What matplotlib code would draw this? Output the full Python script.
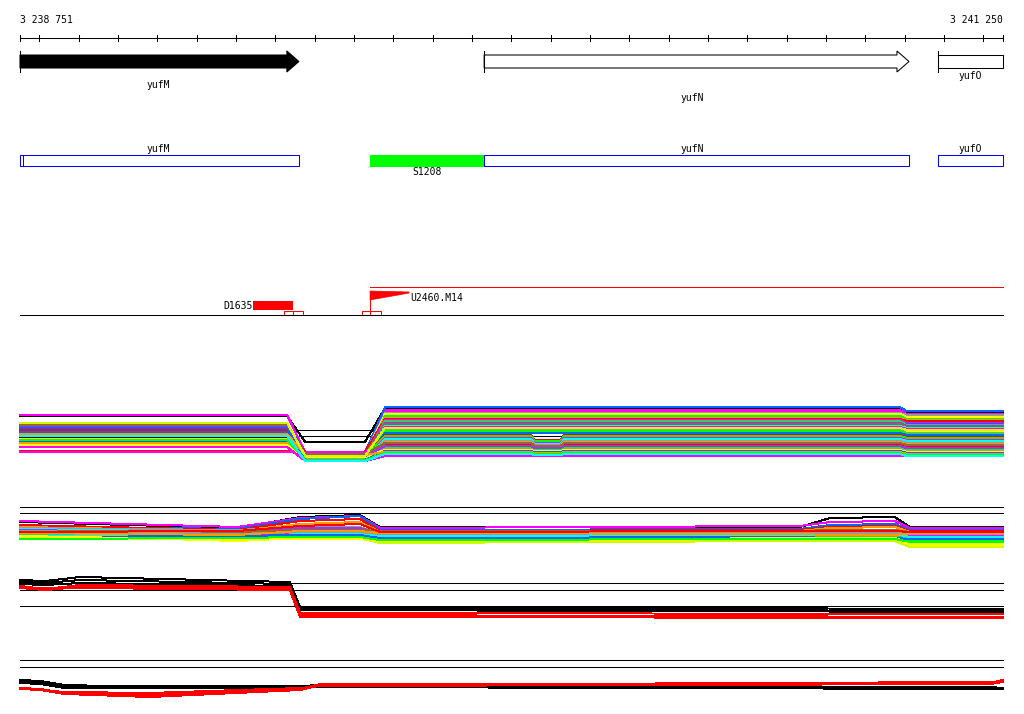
import numpy as np
import matplotlib
matplotlib.use('Agg')
import matplotlib.pyplot as plt
from matplotlib.patches import Polygon, Rectangle

plt.rcParams['font.family'] = 'DejaVu Sans Mono'
plt.rcParams['font.size'] = 7

# region shown (bp)
start, end = 3238751, 3241250
bp_px = (end - start) / 983.0
ticks = list(range(3238800, 3241201, 100))

# genes: name, from, to, kind
genes = [('yufM', 3238751, 3239460, 'filled'),
         ('yufN', 3239931, 3241011, 'open'),
         ('yufO', 3241085, 3241250, 'box')]
gene_label_x = [3239102, 3240460, 3241167]
gene_label_y = [85, 98, 76]

# second track boxes
boxes = [('yufM', 3238751, 3239460), ('yufN', 3239931, 3241011), ('yufO', 3241085, 3241250)]
promoter = ('S1208', 3239641, 3239931)

# third track
d_name, d_from, d_to = 'D1635', 3239343, 3239445
d_boxes = [(3239422, 3239445), (3239445, 3239470)]
u_name, u_pos, u_flag_end = 'U2460.M14', 3239641, 3239740
u_boxes = [(3239620, 3239641), (3239641, 3239669)]

palette = {'k': '#000000', 'm': '#ff00ff', 'b': '#0066ff', 'r': '#ff0000', 'o': '#ff9900',
           'y': '#ffff00', 'l': '#00ff00', 'c': '#00ffff', 'g': '#999999', 'p': '#9933ff',
           'n': '#996633', 'e': '#33cc66', 'w': '#ccff00'}

# track 4 bundle: left, dip, right, mid-right, far-right levels
x4 = [3238751, 3239430, 3239476, 3239628, 3239679, 3240050, 3240060, 3240125, 3240135,
      3240988, 3241005, 3241250]
t4_colors = list('kmbmgcylormbepncmyglbrlmcgokrmlgypbomlcnw')
t4_levels = [
    (416, 442, 408, 408, 412), (415, 452, 410, 410, 414), (425, 453, 407, 407, 411), (424, 455, 412, 412, 416),
    (426, 454, 413, 413, 415), (427, 456, 415, 415, 418), (428, 455, 414, 414, 417), (429, 457, 416, 416, 419),
    (431, 458, 418, 418, 420), (430, 452, 419, 419, 421), (433, 456, 420, 420, 423), (432, 457, 422, 422, 424),
    (434, 458, 421, 421, 425), (435, 456, 423, 423, 426), (436, 455, 424, 424, 427), (437, 459, 426, 426, 428),
    (438, 457, 427, 427, 429), (439, 459, 429, 429, 431), (440, 458, 430, 430, 433), (441, 454, 431, 431, 434),
    (442, 459, 433, 433, 435), (443, 456, 435, 440, 437), (444, 457, 436, 441, 438), (445, 460, 438, 443, 440),
    (446, 459, 439, 444, 441), (447, 458, 441, 445, 443), (443, 455, 442, 446, 444), (437, 460, 444, 447, 446),
    (451, 455, 445, 448, 447), (452, 452, 447, 449, 449), (424, 458, 448, 450, 450), (423, 459, 449, 451, 451),
    (445, 457, 450, 451, 452), (426, 456, 446, 448, 448), (428, 460, 451, 452, 453), (434, 455, 452, 453, 454),
    (447, 461, 456, 456, 456), (440, 460, 453, 454, 455), (436, 461, 454, 455, 456), (425, 454, 443, 446, 445),
    (423, 456, 428, 428, 430), (431, 457, 432, 432, 434),
]
t4_refs = [430, 436]

# track 5 bundle
x5 = [3238751, 3239303, 3239463, 3239615, 3239666, 3240734, 3240810, 3240975, 3241013, 3241250]
t5_colors = list('kmbrogcpnlyemcbwgoylr')
t5_lines = [
    [522, 528, 517, 515, 527, 527, 518, 517, 527, 527],
    [521, 527, 518, 516, 528, 526, 522, 521, 528, 528],
    [526, 529, 519, 516, 530, 529, 525, 524, 530, 530],
    [525, 530, 521, 519, 531, 530, 527, 526, 531, 531],
    [527, 531, 524, 522, 532, 531, 528, 527, 532, 532],
    [528, 530, 527, 527, 533, 532, 530, 530, 533, 533],
    [529, 532, 529, 529, 534, 532, 531, 531, 534, 534],
    [530, 533, 528, 528, 533, 533, 532, 532, 535, 535],
    [531, 532, 530, 530, 531, 531, 530, 530, 532, 532],
    [533, 538, 536, 536, 540, 537, 537, 537, 541, 541],
    [535, 541, 538, 538, 542, 540, 540, 540, 545, 545],
    [534, 536, 535, 535, 537, 536, 536, 536, 538, 538],
    [532, 534, 533, 533, 535, 534, 535, 535, 536, 536],
    [536, 537, 534, 534, 536, 535, 534, 534, 537, 537],
    [537, 536, 535, 535, 538, 537, 538, 538, 539, 539],
    [538, 539, 538, 538, 543, 541, 541, 541, 547, 547],
    [531, 534, 532, 532, 534, 533, 533, 533, 534, 534],
    [533, 535, 531, 531, 533, 534, 535, 535, 533, 533],
    [536, 540, 539, 539, 541, 538, 538, 538, 543, 543],
    [539, 538, 537, 537, 540, 539, 539, 539, 542, 542],
    [532, 531, 526, 524, 532, 531, 531, 531, 532, 532],
]
t5_refs = [507, 513]

# track 6
x6 = [3238751, 3238815, 3238904, 3239437, 3239463, 3241250]
t6_colors = list('kkkrrr')
t6_lines = [
    [580, 581, 577, 582, 607, 609],
    [582, 583, 580, 584, 609, 611],
    [584, 585, 583, 586, 610, 612],
    [586, 589, 585, 587, 613, 614],
    [588, 590, 587, 589, 615, 617],
    [587, 588, 588, 590, 617, 618],
]
t6_refs = [583, 590, 606]

# track 7
x7 = [3238751, 3238802, 3238865, 3239081, 3239463, 3239514, 3241217, 3241250]
t7_colors = list('kkkrrr')
t7_lines = [
    [680, 681, 685, 687, 686, 685, 688, 688],
    [682, 683, 687, 686, 687, 687, 689, 689],
    [683, 684, 688, 688, 688, 686, 687, 688],
    [688, 689, 693, 695, 689, 684, 683, 680],
    [688, 690, 694, 697, 690, 685, 682, 681],
    [689, 690, 692, 693, 688, 686, 684, 682],
]
t7_refs = [660, 667]

fig = plt.figure(figsize=(10.24, 7.14), dpi=100)
ax = fig.add_axes([0, 0, 1, 1])
ax.set_xlim(start - 20 * bp_px, start + 1004 * bp_px)
ax.set_ylim(714, 0)
ax.axis('off')
lw = 0.75

# ruler
ax.plot([start, end], [38, 38], color='black', lw=lw)
for t in [start] + ticks + [end]:
    ax.plot([t, t], [35, 41], color='black', lw=lw)
ax.text(start, 20, '3 238 751', ha='left', va='center')
ax.text(end, 20, '3 241 250', ha='right', va='center')

# gene arrows
head = 12 * bp_px
for (name, g0, g1, kind), lx, ly in zip(genes, gene_label_x, gene_label_y):
    if kind == 'box':
        ax.add_patch(Rectangle((g0, 55), g1 - g0, 13, fc='white', ec='black', lw=lw))
    else:
        pts = [(g0, 55), (g1 - head, 55), (g1 - head, 51), (g1, 61.5),
               (g1 - head, 72), (g1 - head, 68), (g0, 68)]
        fc = 'black' if kind == 'filled' else 'white'
        ax.add_patch(Polygon(pts, closed=True, fc=fc, ec='black', lw=lw))
    ax.plot([g0, g0], [51, 72], color='black', lw=lw)
    ax.text(lx, ly, name, ha='center', va='center')

# second track
for (name, b0, b1), lx in zip(boxes, gene_label_x):
    ax.add_patch(Rectangle((b0, 155), b1 - b0, 11, fc='white', ec='#0000ff', lw=lw))
    ax.text(lx, 149, name, ha='center', va='center')
ax.plot([start + 3 * bp_px] * 2, [155, 166], color='#0000ff', lw=lw)
ax.add_patch(Rectangle((promoter[1], 155), promoter[2] - promoter[1], 12, fc='#00ff00', ec='none'))
ax.text((promoter[1] + promoter[2]) / 2, 172, promoter[0], ha='center', va='center')

# third track
ax.plot([start, end], [315, 315], color='black', lw=lw)
ax.plot([u_pos, end], [287, 287], color='#ff0000', lw=lw)
ax.add_patch(Rectangle((d_from, 301), d_to - d_from, 9, fc='#ff0000', ec='none'))
ax.text(d_from, 306, d_name, ha='right', va='center')
for b0, b1 in d_boxes + u_boxes:
    ax.add_patch(Rectangle((b0, 311), b1 - b0, 4, fc='none', ec='#ff0000', lw=lw))
ax.plot([u_pos, u_pos], [291, 311], color='#ff0000', lw=lw)
ax.add_patch(Polygon([(u_pos, 291), (u_flag_end, 292), (u_flag_end, 293), (u_pos, 300)],
                     closed=True, fc='#ff0000', ec='#ff0000', lw=0.5))
ax.text(u_flag_end + 2, 298, u_name, ha='left', va='center')

# reference lines
for y in t4_refs + t5_refs + t6_refs + t7_refs:
    ax.plot([start, end], [y, y], color='black', lw=lw, zorder=1)

# signal bundles
for c, (L, M, R, D, R2) in zip(t4_colors, t4_levels):
    ys = [L, L, M, M, R, R, D, D, R, R, R2, R2]
    ax.plot(x4, ys, color=palette[c], lw=0.72, antialiased=False, zorder=2)
for c, ys in zip(t5_colors, t5_lines):
    ax.plot(x5, ys, color=palette[c], lw=0.72, antialiased=False, zorder=2)
for c, ys in zip(t6_colors, t6_lines):
    ax.plot(x6, ys, color=palette[c], lw=0.72, antialiased=False, zorder=2)
for c, ys in zip(t7_colors, t7_lines):
    ax.plot(x7, ys, color=palette[c], lw=0.72, antialiased=False, zorder=2)

fig.savefig('out.png', dpi=100)
